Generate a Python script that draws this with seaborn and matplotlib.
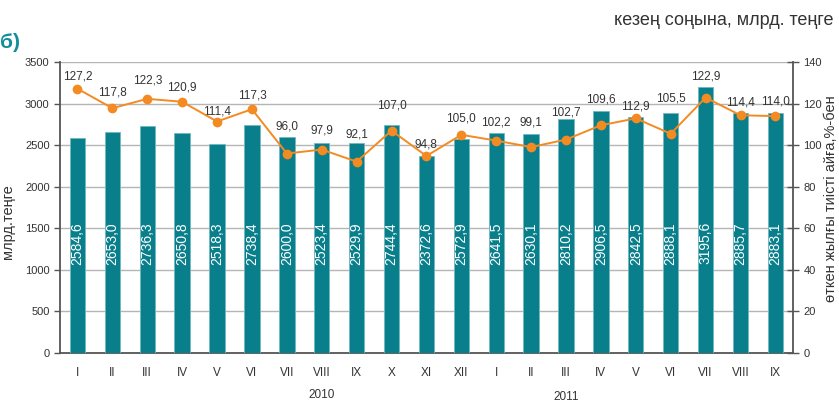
import numpy as np
import pandas as pd
import matplotlib
matplotlib.use("Agg")
import matplotlib.pyplot as plt
import matplotlib.transforms as mtransforms
import seaborn as sns

months = ["I", "II", "III", "IV", "V", "VI", "VII", "VIII", "IX", "X", "XI", "XII",
          "I", "II", "III", "IV", "V", "VI", "VII", "VIII", "IX"]
years = ["2010", "2011"]
stock = [2584.6, 2653.0, 2736.3, 2650.8, 2518.3, 2738.4, 2600.0, 2523.4, 2529.9,
         2744.4, 2372.6, 2572.9, 2641.5, 2630.1, 2810.2, 2906.5, 2842.5, 2888.1,
         3195.6, 2885.7, 2883.1]
growth = [127.2, 117.8, 122.3, 120.9, 111.4, 117.3, 96.0, 97.9, 92.1, 107.0, 94.8,
          105.0, 102.2, 99.1, 102.7, 109.6, 112.9, 105.5, 122.9, 114.4, 114.0]

# vertical lift (pixels) of each growth label above its marker, to keep labels clear of the line
label_lift = [12, 16, 18, 14, 10, 14, 27, 19, 27, 25, 12, 16, 18, 25, 27, 26, 12, 35, 21, 13, 15]

df = pd.DataFrame({"pos": np.arange(len(months)), "stock": stock, "growth": growth})

teal = "#0a7f8c"
orange = "#f38a22"
txt = "#333333"

sns.set_theme(style="white")
plt.rcParams["font.family"] = ["Liberation Sans", "DejaVu Sans"]

fig = plt.figure(figsize=(8.39, 4.03), dpi=100)
ax = fig.add_axes([0.0715, 0.124, 0.8735, 0.722])

sns.barplot(data=df, x="pos", y="stock", color=teal, width=0.44, saturation=1,
            edgecolor="#6fb9c1", linewidth=0.6, ax=ax, zorder=3)
ax.set_ylim(0, 3500)
ax.set_yticks(np.arange(0, 3501, 500))
ax.set_xlim(-0.5, len(months) - 0.5)
ax.yaxis.grid(True, color="#b5b5b5", linewidth=1.0, zorder=0)
ax.set_axisbelow(True)

# value labels written upright inside each bar
for i, v in enumerate(stock):
    ax.text(i, 1320, f"{v:.1f}".replace(".", ","), rotation=90, ha="center",
            va="center", color="white", fontsize=10, zorder=5)

ax.set_xticks(np.arange(len(months)))
ax.set_xticklabels(months, fontsize=8.5, color=txt)
ax.set_xticks(np.arange(-0.5, len(months), 1.0), minor=True)
ax.tick_params(axis="x", which="major", length=0, pad=10)
ax.tick_params(axis="x", which="minor", direction="inout", length=7, width=1.0, color="#555555")
ax.tick_params(axis="y", labelsize=8, labelcolor=txt, direction="out", length=4,
               width=1.0, color="#555555", left=True)
ax.set_xlabel("")
ax.set_ylabel("млрд.теңге", fontsize=10.5, color=txt)
ax.yaxis.set_label_coords(-0.062, 0.45)

for s in ["top", "right"]:
    ax.spines[s].set_visible(False)
for s in ["left", "bottom"]:
    ax.spines[s].set_color("#555555")
    ax.spines[s].set_linewidth(1.3)

ax2 = ax.twinx()
sns.lineplot(data=df, x="pos", y="growth", color=orange, linewidth=1.4, marker="o",
             markersize=7, markeredgewidth=0, ax=ax2, zorder=4)
ax2.set_ylim(0, 140)
ax2.set_yticks(np.arange(0, 141, 20))
ax2.set_xlim(-0.5, len(months) - 0.5)
ax2.tick_params(axis="y", labelsize=8, labelcolor=txt, direction="inout", length=8,
                width=1.0, color="#555555", right=True)
ax2.set_ylabel("өткен жылғы тиісті айға,%-бен", fontsize=10.5, color=txt)
ax2.yaxis.set_label_coords(1.043, 0.529)
ax2.set_xlabel("")
for s in ["top", "left", "bottom"]:
    ax2.spines[s].set_visible(False)
ax2.spines["right"].set_color("#555555")
ax2.spines["right"].set_linewidth(1.3)
ax2.grid(False)

for i, (v, lift) in enumerate(zip(growth, label_lift)):
    ax2.annotate(f"{v:.1f}".replace(".", ","), (i, v), xytext=(0, lift),
                 textcoords="offset pixels", ha="center", va="center",
                 fontsize=8.5, color=txt)

trans = mtransforms.blended_transform_factory(ax.transData, fig.transFigure)
ax.text(7, 0.02, years[0], transform=trans, ha="center", va="center", fontsize=8.5, color=txt)
ax.text(14, 0.016, years[1], transform=trans, ha="center", va="center", fontsize=8.5, color=txt)

fig.text(0.993, 0.95, "кезең соңына, млрд. теңге", ha="right", va="center",
         fontsize=13, color=txt)
fig.text(0.0, 0.895, "б)", ha="left", va="center", fontsize=15,
         fontweight="bold", color="#138f9b")

fig.savefig("out.png", dpi=100)
